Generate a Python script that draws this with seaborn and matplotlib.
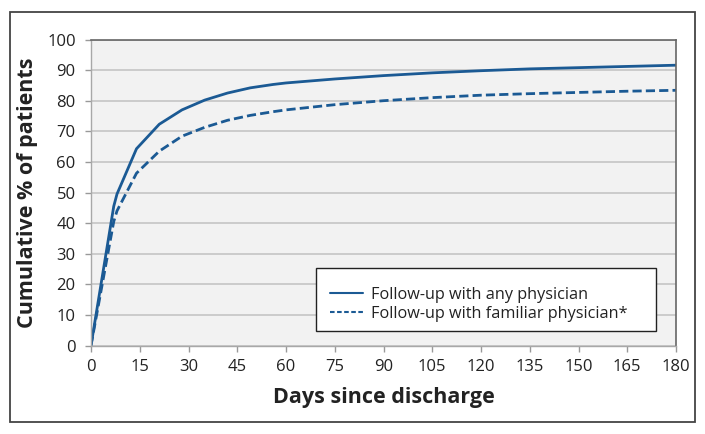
import pandas as pd
import matplotlib.pyplot as plt
import matplotlib.patches as patches
from matplotlib.lines import Line2D
import seaborn as sns

# values
days = [0, 7, 8, 14, 21, 28, 35, 42, 49, 56, 60, 75, 90, 105, 120, 135, 150, 165, 180]
any_physician = [0, 45.5, 49.5, 64.3, 72.3, 77.0, 80.2, 82.5, 84.2, 85.3, 85.8,
                 87.1, 88.2, 89.1, 89.8, 90.4, 90.8, 91.2, 91.6]
familiar_physician = [0, 40.5, 44.0, 56.3, 63.5, 68.4, 71.3, 73.6, 75.2, 76.4, 77.0,
                      78.7, 80.0, 81.0, 81.8, 82.3, 82.7, 83.1, 83.4]
series_names = ["Follow-up with any physician", "Follow-up with familiar physician*"]
x_ticks = list(range(0, 181, 15))
y_ticks = list(range(0, 101, 10))

df = pd.concat([
    pd.DataFrame({"day": days, "pct": any_physician, "series": series_names[0]}),
    pd.DataFrame({"day": days, "pct": familiar_physician, "series": series_names[1]}),
])

sns.set_theme(style="white")
plt.rcParams['font.family'] = ['Open Sans', 'DejaVu Sans']

BLUE = "#1b5a94"
W, H = 705, 434

fig = plt.figure(figsize=(W / 100, H / 100), dpi=100)
ax = fig.add_axes([91 / W, (H - 345.5) / H, 585 / W, 306 / H])
ax.set_facecolor("#f2f2f2")

sns.lineplot(data=df, x="day", y="pct", hue="series", style="series",
             palette=[BLUE, BLUE], dashes=[(1, 0), (3.3, 1.5)],
             linewidth=2, legend=False, ax=ax)

ax.set_xlim(0, 180)
ax.set_ylim(0, 100)
ax.set_xticks(x_ticks)
ax.set_yticks(y_ticks)
ax.grid(axis="y", color="#c8c8c8", linewidth=1.3)
ax.set_axisbelow(True)
ax.tick_params(axis="both", which="major", labelsize=12, colors="#999999",
               labelcolor="#222222", length=4, width=1, direction="out")
ax.tick_params(axis="x", pad=6)
ax.tick_params(axis="y", pad=7)
ax.tick_params(left=True, bottom=True)

for side in ["top", "right"]:
    ax.spines[side].set_color("#666666")
    ax.spines[side].set_linewidth(1.2)
for side in ["left", "bottom"]:
    ax.spines[side].set_color("#a8a8a8")
    ax.spines[side].set_linewidth(1.0)

ax.set_xlabel("Days since discharge", fontsize=15.5, fontweight="bold", color="#222222")
ax.set_ylabel("Cumulative % of patients", fontsize=15.5, fontweight="bold", color="#222222")
ax.xaxis.set_label_coords(0.5, (345.5 - 397) / 306)
ax.yaxis.set_label_coords((28 - 91) / 585, 0.5)
ax.xaxis.label.set_va("center")
ax.yaxis.label.set_va("center")


def ax_xy(px, py):
    # pixel position in the figure -> axes fraction
    return (px - 91) / 585, (345.5 - py) / 306


# legend box drawn separately so the rows can sit low in it, like the reference
x0, y0 = ax_xy(316, 331)
ax.add_patch(patches.Rectangle((x0, y0), 340 / 585, 63 / 306, transform=ax.transAxes,
                               facecolor="white", edgecolor="#222222", linewidth=1.0,
                               zorder=4, clip_on=False))

handles = [Line2D([], [], color=BLUE, lw=1.5),
           Line2D([], [], color=BLUE, lw=1.5, dashes=(2.2, 1.2))]
leg = ax.legend(handles, series_names, loc="center left",
                bbox_to_anchor=ax_xy(330, 304.5),
                fontsize=11.7, frameon=False, borderpad=0, handlelength=2.0,
                handletextpad=0.55, labelspacing=0.2, borderaxespad=0)
leg.set_zorder(5)
for t in leg.get_texts():
    t.set_color("#222222")

# outer frame around the whole figure
fig.patches.append(patches.Rectangle((10 / W, 12 / H), 685 / W, 410 / H,
                                     transform=fig.transFigure, fill=False,
                                     edgecolor="#444444", linewidth=1.3))

fig.savefig("out.png", dpi=100)
